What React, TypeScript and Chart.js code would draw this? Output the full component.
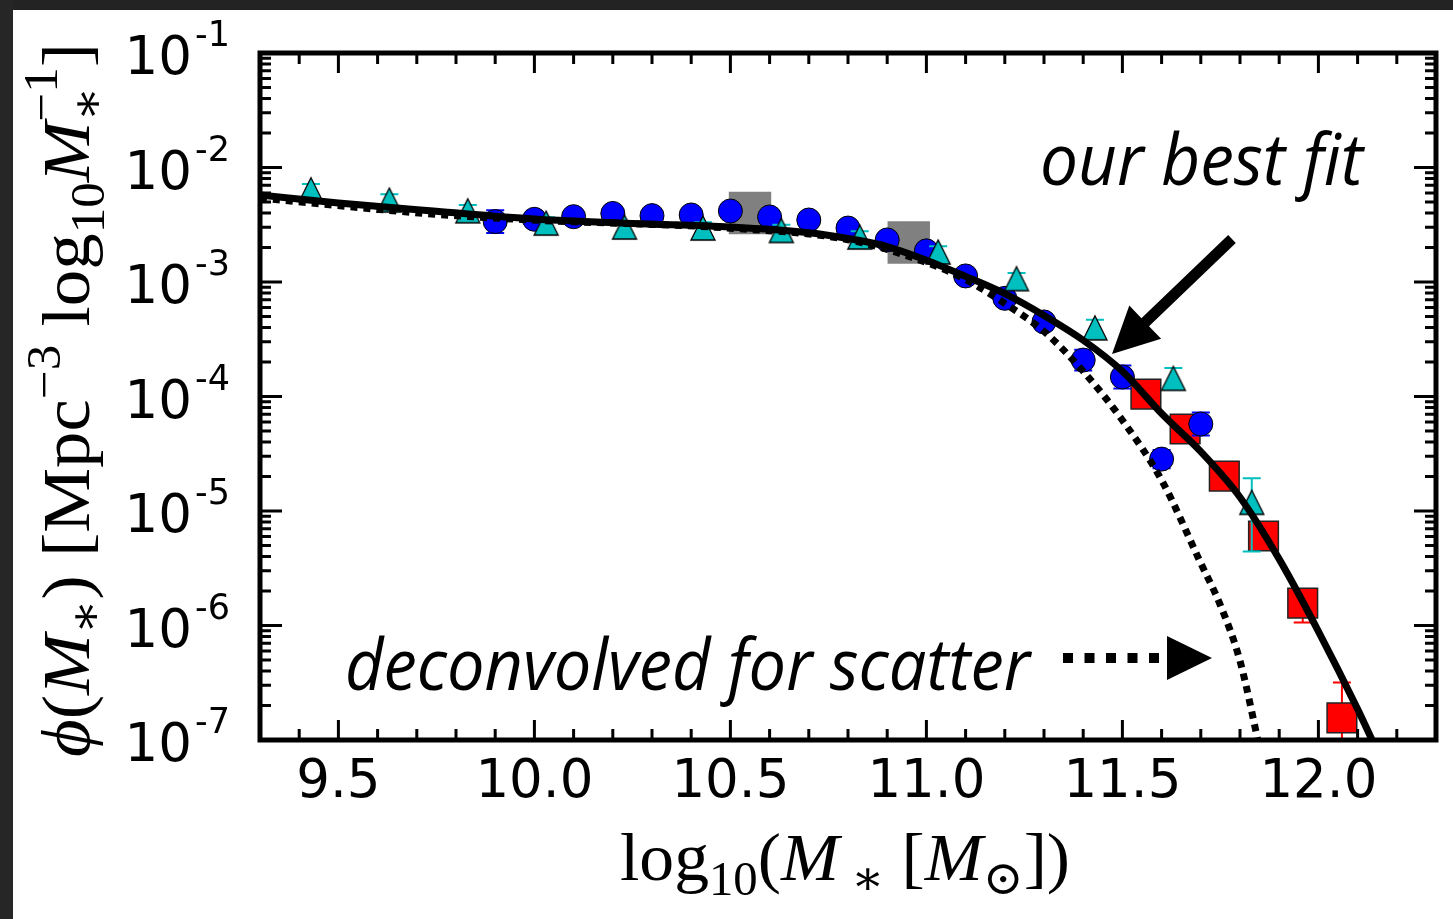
import React, { useEffect, useRef } from 'react';
import { Chart, registerables } from 'chart.js';

Chart.register(...registerables);

const W = 1453;
const H = 919;

// ---------------- data (log10 M*, phi) ----------------
const circleMass = [9.9, 10.0, 10.1, 10.2, 10.3, 10.4, 10.5, 10.6, 10.7, 10.8, 10.9, 11.0, 11.1, 11.2, 11.3, 11.4, 11.5, 11.6, 11.7];
const circlePhi = [3.37e-3, 3.53e-3, 3.72e-3, 3.97e-3, 3.8e-3, 3.85e-3, 4.17e-3, 3.7e-3, 3.48e-3, 2.96e-3, 2.33e-3, 1.87e-3, 1.13e-3, 7.2e-4, 4.48e-4, 2.08e-4, 1.48e-4, 2.84e-5, 5.75e-5];
const circleErrDex = [0.1, 0.06, 0.05, 0.05, 0.05, 0.05, 0.05, 0.05, 0.05, 0.05, 0.05, 0.05, 0.06, 0.06, 0.07, 0.09, 0.1, 0.08, 0.1];

const triMass = [9.43, 9.63, 9.83, 10.03, 10.23, 10.43, 10.63, 10.83, 11.03, 11.23, 11.43, 11.63, 11.83];
const triPhi = [6.4e-3, 5.2e-3, 4.19e-3, 3.27e-3, 3.02e-3, 2.96e-3, 2.82e-3, 2.47e-3, 1.83e-3, 1.07e-3, 3.98e-4, 1.44e-4, 1.19e-5];
const triErrUpDex = [0.05, 0.05, 0.05, 0.05, 0.05, 0.05, 0.05, 0.05, 0.05, 0.05, 0.07, 0.09, 0.21];
const triErrDownDex = [0.05, 0.05, 0.05, 0.05, 0.05, 0.05, 0.05, 0.05, 0.05, 0.05, 0.07, 0.09, 0.43];

const squareMass = [11.56, 11.66, 11.76, 11.86, 11.96, 12.06];
const squarePhi = [1.05e-4, 5.2e-5, 2.02e-5, 6.05e-6, 1.57e-6, 1.56e-7];
const squareErrUpDex = [0.05, 0.05, 0.06, 0.08, 0.1, 0.31];
const squareErrDownDex = [0.05, 0.05, 0.06, 0.09, 0.17, 0.6];

const grayMass = [10.55, 10.955];
const grayPhi = [4.0e-3, 2.21e-3];

const fitMass = [9.3, 9.5, 9.75, 10.0, 10.25, 10.5, 10.7, 10.8, 10.9, 11.0, 11.1, 11.2, 11.3, 11.4, 11.5, 11.6, 11.7, 11.8, 11.9, 12.0, 12.1, 12.15];
const fitPhi = [5.75e-3, 4.9e-3, 4.15e-3, 3.55e-3, 3.24e-3, 3.02e-3, 2.69e-3, 2.4e-3, 2.04e-3, 1.55e-3, 1.12e-3, 7.9e-4, 5.1e-4, 3.1e-4, 1.66e-4, 7.1e-5, 3.3e-5, 1.32e-5, 3.8e-6, 8.9e-7, 1.86e-7, 8e-8];

const deconvMass = [9.3, 9.75, 10.0, 10.5, 10.8, 11.0, 11.1, 11.2, 11.3, 11.4, 11.5, 11.6, 11.7, 11.75, 11.8, 11.85];
const deconvPhi = [5.4e-3, 3.9e-3, 3.47e-3, 2.95e-3, 2.34e-3, 1.48e-3, 1.05e-3, 6.5e-4, 3.7e-4, 1.66e-4, 6.2e-5, 1.86e-5, 3.5e-6, 1.5e-6, 4.9e-7, 8.5e-8];

// ---------------- ticks ----------------
const xMin = 9.3;
const xMax = 12.3;
const xTickValues = [9.5, 10.0, 10.5, 11.0, 11.5, 12.0];
const xTickLabels = ['9.5', '10.0', '10.5', '11.0', '11.5', '12.0'];
const yTickValues = [1e-1, 1e-2, 1e-3, 1e-4, 1e-5, 1e-6, 1e-7];
const yTickExponents = ['-1', '-2', '-3', '-4', '-5', '-6', '-7'];

const pts = (xs: number[], ys: number[]) => xs.map((x, i) => ({ x, y: ys[i] }));

type Seg = { t: string; it?: boolean; s?: number; dy?: number; stack?: Seg[] };

const SERIF = "'Liberation Serif', 'DejaVu Serif', serif";
const SANS = "'DejaVu Sans', sans-serif";
const NOTE = "'Open Sans', 'Noto Sans', sans-serif";

function segFont(seg: Seg, size: number) {
  return `${seg.it ? 'italic ' : ''}${(size * (seg.s ?? 1)).toFixed(1)}px ${SERIF}`;
}
function measureRich(ctx: CanvasRenderingContext2D, segs: Seg[], size: number) {
  let w = 0;
  for (const seg of segs) {
    if (seg.stack) {
      let m = 0;
      for (const s2 of seg.stack) {
        ctx.font = segFont(s2, size);
        m = Math.max(m, ctx.measureText(s2.t).width);
      }
      w += m;
    } else {
      ctx.font = segFont(seg, size);
      w += ctx.measureText(seg.t).width;
    }
  }
  return w;
}
function drawRich(ctx: CanvasRenderingContext2D, segs: Seg[], size: number, x0: number, y0: number) {
  let x = x0;
  for (const seg of segs) {
    if (seg.stack) {
      let m = 0;
      for (const s2 of seg.stack) {
        ctx.font = segFont(s2, size);
        ctx.fillText(s2.t, x, y0 + (s2.dy ?? 0) * size);
        m = Math.max(m, ctx.measureText(s2.t).width);
      }
      x += m;
    } else {
      ctx.font = segFont(seg, size);
      ctx.fillText(seg.t, x, y0 + (seg.dy ?? 0) * size);
      x += ctx.measureText(seg.t).width;
    }
  }
}
function drawRichFit(ctx: CanvasRenderingContext2D, segs: Seg[], size: number, cx: number, cy: number, width: number, rot: number) {
  ctx.save();
  ctx.translate(cx, cy);
  ctx.rotate(rot);
  const w = measureRich(ctx, segs, size);
  ctx.scale(width / w, 1);
  ctx.textAlign = 'left';
  ctx.textBaseline = 'alphabetic';
  drawRich(ctx, segs, size, -w / 2, 0);
  ctx.restore();
}
function drawFitText(ctx: CanvasRenderingContext2D, text: string, font: string, left: number, right: number, baseline: number) {
  ctx.save();
  ctx.font = font;
  const w = ctx.measureText(text).width;
  ctx.translate(left, baseline);
  ctx.scale((right - left) / w, 1);
  ctx.textAlign = 'left';
  ctx.textBaseline = 'alphabetic';
  ctx.fillText(text, 0, 0);
  ctx.restore();
}

const yTitle: Seg[] = [
  { t: 'ϕ', it: true },
  { t: '(' },
  { t: 'M', it: true },
  { t: '∗', s: 0.7, dy: 0.18 },
  { t: ')' },
  { t: ' [' },
  { t: 'Mpc' },
  { t: '−3', s: 0.7, dy: -0.42 },
  { t: ' log' },
  { t: '10', s: 0.7, dy: 0.22 },
  { t: 'M', it: true },
  { t: '', stack: [{ t: '∗', s: 0.7, dy: 0.2 }, { t: '−1', s: 0.7, dy: -0.47 }] },
  { t: ']' },
];
const xTitle: Seg[] = [
  { t: 'log' },
  { t: '10', s: 0.7, dy: 0.22 },
  { t: '(' },
  { t: 'M', it: true },
  { t: ' ∗', s: 0.7, dy: 0.2 },
  { t: ' [' },
  { t: 'M', it: true },
  { t: '⊙', s: 0.7, dy: 0.2 },
  { t: '])' },
];

const backgroundPlugin = {
  id: 'bg',
  beforeDraw(chart: any) {
    const ctx = chart.ctx as CanvasRenderingContext2D;
    ctx.save();
    ctx.fillStyle = '#ffffff';
    ctx.fillRect(0, 0, W, H);
    ctx.fillStyle = '#232323';
    ctx.fillRect(0, 0, W, 10);
    ctx.fillStyle = '#262626';
    ctx.fillRect(0, 0, 13, H);
    ctx.restore();
  },
};

const errorBarPlugin = {
  id: 'errbars',
  beforeDatasetDraw(chart: any, args: any) {
    const ds = chart.data.datasets[args.index];
    if (!ds.errUp) return;
    const ctx = chart.ctx as CanvasRenderingContext2D;
    const ys = chart.scales.y;
    const a = chart.chartArea;
    ctx.save();
    ctx.beginPath();
    ctx.rect(a.left, a.top, a.right - a.left, a.bottom - a.top);
    ctx.clip();
    ctx.strokeStyle = ds.errColor;
    ctx.lineWidth = 2;
    args.meta.data.forEach((el: any, i: number) => {
      const v = ds.data[i].y;
      const yHi = ys.getPixelForValue(v * Math.pow(10, ds.errUp[i]));
      const yLo = ys.getPixelForValue(v / Math.pow(10, ds.errDown[i]));
      const x = el.x;
      ctx.beginPath();
      ctx.moveTo(x, yHi);
      ctx.lineTo(x, yLo);
      ctx.moveTo(x - 9, yHi);
      ctx.lineTo(x + 9, yHi);
      ctx.moveTo(x - 9, yLo);
      ctx.lineTo(x + 9, yLo);
      ctx.stroke();
    });
    ctx.restore();
  },
};

const framePlugin = {
  id: 'frame',
  afterDraw(chart: any) {
    const ctx = chart.ctx as CanvasRenderingContext2D;
    const a = chart.chartArea;
    const xs = chart.scales.x;
    const ys = chart.scales.y;
    ctx.save();
    ctx.strokeStyle = '#000';
    ctx.fillStyle = '#000';
    // x ticks (top & bottom, inward)
    ctx.lineWidth = 3;
    for (let k = 93; k <= 123; k++) {
      const v = k / 10;
      const px = xs.getPixelForValue(v);
      const major = k % 5 === 0;
      const len = major ? 20 : 11;
      ctx.beginPath();
      ctx.moveTo(px, a.bottom);
      ctx.lineTo(px, a.bottom - len);
      ctx.moveTo(px, a.top);
      ctx.lineTo(px, a.top + len);
      ctx.stroke();
    }
    // y ticks (left & right, inward)
    for (let e = -7; e <= -1; e++) {
      for (let m = 1; m <= 9; m++) {
        const v = m * Math.pow(10, e);
        if (v > 0.1000001) continue;
        const py = ys.getPixelForValue(v);
        const len = m === 1 ? 22 : 11;
        ctx.beginPath();
        ctx.moveTo(a.left, py);
        ctx.lineTo(a.left + len, py);
        ctx.moveTo(a.right, py);
        ctx.lineTo(a.right - len, py);
        ctx.stroke();
      }
    }
    // frame
    ctx.lineWidth = 5;
    ctx.strokeRect(a.left, a.top, a.right - a.left, a.bottom - a.top);

    // tick labels
    ctx.font = `53px ${SANS}`;
    ctx.textAlign = 'center';
    ctx.textBaseline = 'alphabetic';
    xTickValues.forEach((v, i) => {
      ctx.fillText(xTickLabels[i], xs.getPixelForValue(v), 797);
    });
    yTickValues.forEach((v, i) => {
      const py = ys.getPixelForValue(v);
      ctx.font = `53px ${SANS}`;
      ctx.textAlign = 'right';
      ctx.fillText('10', 192, py + 21);
      ctx.font = `35px ${SANS}`;
      ctx.textAlign = 'left';
      ctx.fillText(yTickExponents[i], 195, py - 7);
    });

    // axis titles
    drawRichFit(ctx, yTitle, 68, 89, 400, 714, -Math.PI / 2);
    drawRichFit(ctx, xTitle, 68, 845, 880, 450, 0);

    // annotations
    drawFitText(ctx, 'our best fit', `italic 72px ${NOTE}`, 1040, 1363, 185);
    drawFitText(ctx, 'deconvolved for scatter', `italic 72px ${NOTE}`, 345, 1030, 690);

    // solid arrow
    const sx = 1232, sy = 239, tx = 1112, ty = 354;
    const dx = tx - sx, dy = ty - sy;
    const L = Math.hypot(dx, dy);
    const ux = dx / L, uy = dy / L;
    const nx = -uy, ny = ux;
    const headLen = 46, headHalf = 23, shaftHalf = 5.5;
    const bx = tx - ux * headLen, by = ty - uy * headLen;
    ctx.beginPath();
    ctx.moveTo(sx + nx * shaftHalf, sy + ny * shaftHalf);
    ctx.lineTo(bx + nx * shaftHalf, by + ny * shaftHalf);
    ctx.lineTo(bx + nx * headHalf, by + ny * headHalf);
    ctx.lineTo(tx, ty);
    ctx.lineTo(bx - nx * headHalf, by - ny * headHalf);
    ctx.lineTo(bx - nx * shaftHalf, by - ny * shaftHalf);
    ctx.lineTo(sx - nx * shaftHalf, sy - ny * shaftHalf);
    ctx.closePath();
    ctx.fill();

    // dotted arrow
    ctx.lineWidth = 10;
    ctx.setLineDash([10, 11.5]);
    ctx.beginPath();
    ctx.moveTo(1063, 658);
    ctx.lineTo(1160, 658);
    ctx.stroke();
    ctx.setLineDash([]);
    ctx.beginPath();
    ctx.moveTo(1167, 636);
    ctx.lineTo(1212, 658);
    ctx.lineTo(1167, 680);
    ctx.closePath();
    ctx.fill();
    ctx.restore();
  },
};

function makeTriangle(): HTMLCanvasElement {
  const c = document.createElement('canvas');
  c.width = 30;
  c.height = 30;
  const g = c.getContext('2d')!;
  g.beginPath();
  g.moveTo(15, 3);
  g.lineTo(27, 27);
  g.lineTo(3, 27);
  g.closePath();
  g.fillStyle = '#00bfbf';
  g.fill();
  g.lineWidth = 1.3;
  g.strokeStyle = '#000';
  g.stroke();
  return c;
}

export default function App() {
  const ref = useRef<HTMLCanvasElement>(null);
  useEffect(() => {
    document.body.style.margin = '0';
    const tri = makeTriangle();
    const chart = new Chart(ref.current as HTMLCanvasElement, {
      type: 'scatter',
      data: {
        datasets: [
          {
            type: 'line',
            label: 'best fit',
            data: pts(fitMass, fitPhi),
            borderColor: '#000',
            borderWidth: 7,
            pointRadius: 0,
            cubicInterpolationMode: 'monotone',
            fill: false,
            clip: 0,
            order: 0,
          } as any,
          {
            type: 'line',
            label: 'deconvolved',
            data: pts(deconvMass, deconvPhi),
            borderColor: '#000',
            borderWidth: 7,
            borderDash: [7, 6],
            pointRadius: 0,
            cubicInterpolationMode: 'monotone',
            fill: false,
            clip: 0,
            order: 1,
          } as any,
          {
            label: 'triangles',
            data: pts(triMass, triPhi),
            pointStyle: tri,
            pointRadius: 12,
            errUp: triErrUpDex,
            errDown: triErrDownDex,
            errColor: '#00bfbf',
            clip: 0,
            order: 2,
          } as any,
          {
            label: 'circles',
            data: pts(circleMass, circlePhi),
            pointStyle: 'circle',
            pointRadius: 12,
            backgroundColor: '#0000ff',
            borderColor: '#000',
            borderWidth: 1,
            errUp: circleErrDex,
            errDown: circleErrDex,
            errColor: '#0000ff',
            clip: 0,
            order: 3,
          } as any,
          {
            label: 'squares',
            data: pts(squareMass, squarePhi),
            pointStyle: 'rect',
            pointRadius: 21,
            backgroundColor: '#ff0000',
            borderColor: '#222',
            borderWidth: 1.5,
            errUp: squareErrUpDex,
            errDown: squareErrDownDex,
            errColor: '#ff0000',
            clip: 0,
            order: 4,
          } as any,
          {
            label: 'gray',
            data: pts(grayMass, grayPhi),
            pointStyle: 'rect',
            pointRadius: 30,
            backgroundColor: '#808080',
            borderWidth: 0,
            clip: 0,
            order: 5,
          } as any,
        ],
      },
      options: {
        animation: false,
        responsive: false,
        devicePixelRatio: 1,
        events: [],
        layout: { autoPadding: false, padding: { left: 260, right: W - 1436, top: 53, bottom: H - 740 } },
        scales: {
          x: { type: 'linear', min: xMin, max: xMax, display: false },
          y: { type: 'logarithmic', min: 1e-7, max: 1e-1, display: false },
        },
        plugins: { legend: { display: false }, tooltip: { enabled: false } },
      },
      plugins: [backgroundPlugin, errorBarPlugin, framePlugin],
    } as any);
    return () => chart.destroy();
  }, []);
  return (
    <div style={{ position: 'fixed', left: 0, top: 0, width: W, height: H, background: '#fff' }}>
      <canvas ref={ref} width={W} height={H} style={{ display: 'block', width: W, height: H }} />
    </div>
  );
}
